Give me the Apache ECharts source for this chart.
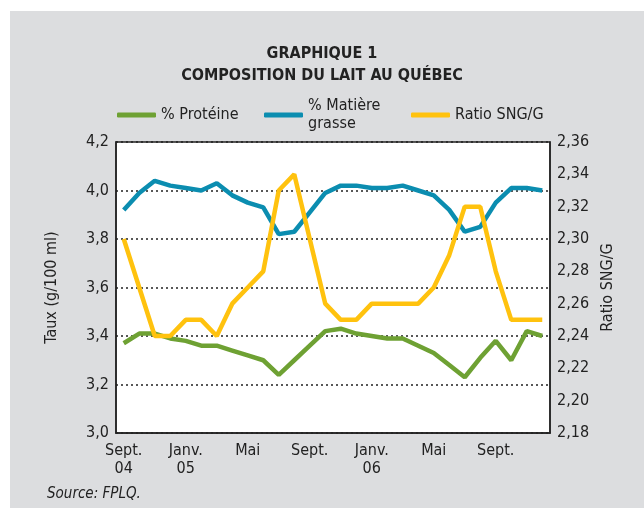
<!DOCTYPE html>
<html>
<head>
<meta charset="utf-8">
<script src="https://cdn.jsdelivr.net/npm/echarts@6/dist/echarts.min.js"></script>
<style>
  html, body { margin: 0; padding: 0; background: #fff; }
  #bg { position: absolute; left: 10px; top: 11px; width: 634px; height: 497px; background: #dcdddf; }
  #chart0 { position: absolute; left: 0; top: 0; width: 644px; height: 508px; }
</style>
</head>
<body>
<div id="bg"></div>
<div id="chart0"></div>
<script>
// months, Sept. 2004 -> Dec. 2006
var months = ['Sept.\n04', 'Oct.', 'Nov.', 'Déc.', 'Janv.\n05', 'Févr.', 'Mars', 'Avr.', 'Mai', 'Juin', 'Juil.', 'Août',
	'Sept.', 'Oct.', 'Nov.', 'Déc.', 'Janv.\n06', 'Févr.', 'Mars', 'Avr.', 'Mai', 'Juin', 'Juil.', 'Août',
	'Sept.', 'Oct.', 'Nov.', 'Déc.'];

var proteine = [3.37, 3.41, 3.41, 3.39, 3.38, 3.36, 3.36, 3.34, 3.32, 3.30, 3.24, 3.30,
	3.36, 3.42, 3.43, 3.41, 3.40, 3.39, 3.39, 3.36, 3.33, 3.28, 3.23, 3.31,
	3.38, 3.30, 3.42, 3.40];

var matiereGrasse = [3.92, 3.99, 4.04, 4.02, 4.01, 4.00, 4.03, 3.98, 3.95, 3.93, 3.82, 3.83,
	3.91, 3.99, 4.02, 4.02, 4.01, 4.01, 4.02, 4.00, 3.98, 3.92, 3.83, 3.85,
	3.95, 4.01, 4.01, 4.00];

var ratioSNG = [2.30, 2.27, 2.24, 2.24, 2.25, 2.25, 2.24, 2.26, 2.27, 2.28, 2.33, 2.34,
	2.30, 2.26, 2.25, 2.25, 2.26, 2.26, 2.26, 2.26, 2.27, 2.29, 2.32, 2.32,
	2.28, 2.25, 2.25, 2.25];

var FONT = "'DejaVu Sans Condensed', 'Liberation Sans Narrow', sans-serif";
var colors = { prot: '#6ea133', mg: '#0b8db0', ratio: '#ffc20e' };

var legendText = { fontFamily: FONT, fontSize: 16, color: '#222', lineHeight: 18 };

var myChart = echarts.init(document.getElementById('chart0'));

myChart.setOption({
	backgroundColor: 'transparent',
	animation: false,
	title: [{
		text: 'GRAPHIQUE 1\nCOMPOSITION DU LAIT AU QUÉBEC',
		left: 'center',
		top: 38,
		textStyle: { fontFamily: FONT, fontSize: 16, fontWeight: 'bold', color: '#222', lineHeight: 22 }
	}, {
		text: 'Source: FPLQ.',
		left: 42,
		top: 482,
		textStyle: { fontFamily: FONT, fontSize: 15, fontStyle: 'italic', fontWeight: 'normal', color: '#222' }
	}],
	legend: [{
		data: ['% Protéine'],
		left: 112, top: 101,
		itemWidth: 39, itemHeight: 5,
		icon: 'roundRect',
		textStyle: legendText
	}, {
		data: ['% Matière grasse'],
		left: 259, top: 83,
		itemWidth: 39, itemHeight: 5,
		icon: 'roundRect',
		formatter: function() { return '% Matière\ngrasse'; },
		textStyle: Object.assign({ padding: [18, 0, 0, 0] }, legendText)
	}, {
		data: ['Ratio SNG/G'],
		left: 406, top: 101,
		itemWidth: 39, itemHeight: 5,
		icon: 'roundRect',
		textStyle: legendText
	}],
	grid: {
		left: 116, right: 94, top: 142, bottom: 75,
		show: true,
		backgroundColor: '#fff',
		borderColor: '#222',
		borderWidth: 1.5
	},
	xAxis: {
		type: 'category',
		data: months,
		boundaryGap: true,
		axisLine: { lineStyle: { color: '#222', width: 1.5 } },
		axisTick: { inside: true, length: 7, interval: 0, lineStyle: { color: '#222', width: 1.5 } },
		axisLabel: { interval: 3, margin: 9, fontFamily: FONT, fontSize: 16, color: '#222', lineHeight: 18 }
	},
	yAxis: [{
		type: 'value',
		min: 3.0, max: 4.2, interval: 0.2,
		name: 'Taux (g/100 ml)',
		nameLocation: 'middle',
		nameGap: 56,
		nameTextStyle: { fontFamily: FONT, fontSize: 16, color: '#222' },
		axisLine: { show: true, lineStyle: { color: '#222', width: 1.5 } },
		axisTick: { show: false },
		axisLabel: {
			margin: 7, fontFamily: FONT, fontSize: 16, color: '#222',
			formatter: function(v) { return v.toFixed(1).replace('.', ','); }
		},
		splitLine: { lineStyle: { color: '#222', type: [2, 3], width: 1.5 } }
	}, {
		type: 'value',
		min: 2.18, max: 2.36, interval: 0.02,
		position: 'right',
		name: 'Ratio SNG/G',
		nameLocation: 'middle',
		nameGap: 46,
		nameRotate: 90,
		nameTextStyle: { fontFamily: FONT, fontSize: 16, color: '#222' },
		axisLine: { show: true, lineStyle: { color: '#222', width: 1.5 } },
		axisTick: { show: false },
		axisLabel: {
			margin: 7, fontFamily: FONT, fontSize: 16, color: '#222',
			formatter: function(v) { return v.toFixed(2).replace('.', ','); }
		},
		splitLine: { show: false }
	}],
	series: [{
		name: '% Protéine',
		type: 'line',
		data: proteine,
		yAxisIndex: 0,
		symbol: 'none',
		color: colors.prot,
		lineStyle: { width: 4.5, color: colors.prot }
	}, {
		name: '% Matière grasse',
		type: 'line',
		data: matiereGrasse,
		yAxisIndex: 0,
		symbol: 'none',
		color: colors.mg,
		lineStyle: { width: 4.5, color: colors.mg }
	}, {
		name: 'Ratio SNG/G',
		type: 'line',
		data: ratioSNG,
		yAxisIndex: 1,
		symbol: 'none',
		color: colors.ratio,
		lineStyle: { width: 4.5, color: colors.ratio }
	}]
});

window.addEventListener('resize', function() {
	myChart.resize();
});
</script>
</body>
</html>
